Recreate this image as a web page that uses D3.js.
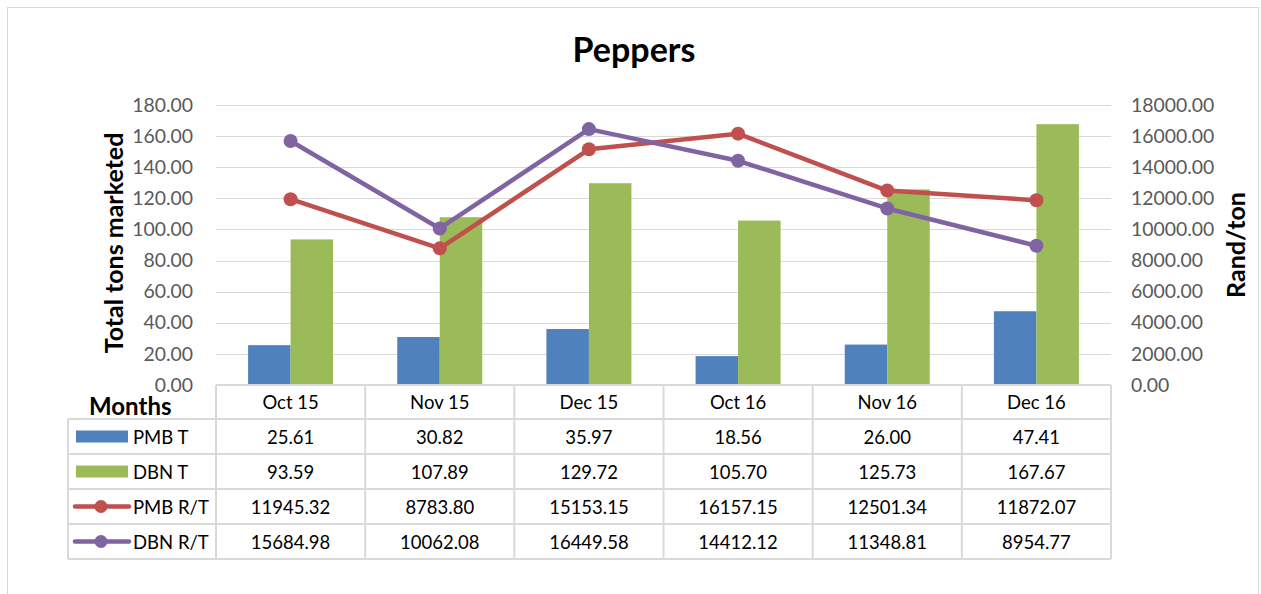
<!DOCTYPE html>
<html lang="en">
<head>
  <meta charset="UTF-8">
  <title>Peppers</title>
  <script src="https://d3js.org/d3.v7.min.js"></script>
  <style>
    body { margin: 0; background: #fff; font-family: Lato, "Open Sans", sans-serif; }
    svg { display: block; }
    .tick text { fill: #595959; font-size: 19.4px; font-family: Lato, sans-serif; }
    .cell { font-size: 18.5px; fill: #000; }
  </style>
</head>
<body>
  <svg id="chart" width="1261" height="594"></svg>
  <script>
    const months = ["Oct 15", "Nov 15", "Dec 15", "Oct 16", "Nov 16", "Dec 16"];
    const pmbT = [25.61, 30.82, 35.97, 18.56, 26.00, 47.41];
    const dbnT = [93.59, 107.89, 129.72, 105.70, 125.73, 167.67];
    const pmbRT = [11945.32, 8783.80, 15153.15, 16157.15, 12501.34, 11872.07];
    const dbnRT = [15684.98, 10062.08, 16449.58, 14412.12, 11348.81, 8954.77];
    const leftTicks = [0, 20, 40, 60, 80, 100, 120, 140, 160, 180];
    const rightTicks = [0, 2000, 4000, 6000, 8000, 10000, 12000, 14000, 16000, 18000];

    const series = [
      { name: "PMB T", type: "bar", color: "#4f81bd", values: pmbT },
      { name: "DBN T", type: "bar", color: "#9bbb59", values: dbnT },
      { name: "PMB R/T", type: "line", color: "#c0504d", values: pmbRT },
      { name: "DBN R/T", type: "line", color: "#8064a2", values: dbnRT }
    ];

    const svg = d3.select("#chart");
    const plot = { left: 216, right: 1111, top: 105, bottom: 385 };
    const tableLeft = 68, rowH = 35;

    // chart frame
    svg.append("rect")
      .attr("x", 7.5).attr("y", 7.5).attr("width", 1251).attr("height", 600)
      .attr("fill", "none").attr("stroke", "#d9d9d9");

    const x = d3.scaleBand().domain(months).range([plot.left, plot.right]);
    const yL = d3.scaleLinear().domain([0, 180]).range([plot.bottom, plot.top]);
    const yR = d3.scaleLinear().domain([0, 18000]).range([plot.bottom, plot.top]);

    // gridlines
    svg.append("g").selectAll("line").data(leftTicks.slice(1)).join("line")
      .attr("x1", plot.left).attr("x2", plot.right)
      .attr("y1", d => Math.round(yL(d)) + 0.5).attr("y2", d => Math.round(yL(d)) + 0.5)
      .attr("stroke", "#d9d9d9").attr("stroke-width", 1.2);

    // axes
    const fmt = d3.format(".2f");
    svg.append("g").attr("transform", `translate(${plot.left - 20},0)`)
      .call(d3.axisLeft(yL).tickValues(leftTicks).tickFormat(fmt).tickSize(0))
      .call(g => g.select(".domain").remove());
    svg.append("g").attr("transform", `translate(${plot.right + 17},0)`)
      .call(d3.axisRight(yR).tickValues(rightTicks).tickFormat(fmt).tickSize(0))
      .call(g => g.select(".domain").remove());

    // bars
    const barW = 42.5;
    const bars = series.filter(s => s.type === "bar");
    bars.forEach((s, i) => {
      svg.append("g").selectAll("rect").data(s.values).join("rect")
        .attr("x", (d, j) => x(months[j]) + x.bandwidth() / 2 - barW + i * barW)
        .attr("y", d => yL(d))
        .attr("width", barW)
        .attr("height", d => yL(0) - yL(d))
        .attr("fill", s.color);
    });

    // lines
    series.filter(s => s.type === "line").forEach(s => {
      const line = d3.line()
        .x((d, j) => x(months[j]) + x.bandwidth() / 2)
        .y(d => yR(d));
      svg.append("path").datum(s.values)
        .attr("d", line).attr("fill", "none")
        .attr("stroke", s.color).attr("stroke-width", 4.5)
        .attr("stroke-linejoin", "round");
      svg.append("g").selectAll("circle").data(s.values).join("circle")
        .attr("cx", (d, j) => x(months[j]) + x.bandwidth() / 2)
        .attr("cy", d => yR(d))
        .attr("r", 7)
        .attr("fill", s.color);
    });

    // title
    svg.append("text").attr("x", 634).attr("y", 62)
      .attr("text-anchor", "middle").attr("font-size", 34).attr("font-weight", "bold")
      .text("Peppers");

    svg.append("text")
      .attr("transform", `translate(123,243) rotate(-90)`)
      .attr("text-anchor", "middle").attr("font-size", 25).attr("font-weight", "bold")
      .text("Total tons marketed");
    svg.append("text")
      .attr("transform", `translate(1245,245) rotate(-90)`)
      .attr("text-anchor", "middle").attr("font-size", 25).attr("font-weight", "bold")
      .text("Rand/ton");

    svg.append("text").attr("x", 89).attr("y", 415)
      .attr("font-size", 24).attr("font-weight", "bold").text("Months");

    // data table
    const grid = svg.append("g").attr("stroke", "#d9d9d9").attr("stroke-width", 2).attr("fill", "none");
    const tableTop = 419;
    const tableBottom = tableTop + rowH * series.length;
    // vertical lines
    x.domain().concat([null]).forEach((m, i) => {
      const xv = m === null ? plot.right : x(m);
      grid.append("line").attr("x1", xv).attr("x2", xv).attr("y1", plot.bottom).attr("y2", tableBottom);
    });
    grid.append("line").attr("x1", tableLeft).attr("x2", tableLeft).attr("y1", tableTop).attr("y2", tableBottom);
    // horizontal lines
    d3.range(series.length + 1).forEach(i => {
      const yv = tableTop + i * rowH;
      grid.append("line").attr("x1", tableLeft).attr("x2", plot.right).attr("y1", yv).attr("y2", yv);
    });
    grid.append("line").attr("x1", plot.left).attr("x2", plot.right).attr("y1", plot.bottom).attr("y2", plot.bottom);

    // header
    svg.append("g").selectAll("text").data(months).join("text")
      .attr("class", "cell")
      .attr("x", d => x(d) + x.bandwidth() / 2)
      .attr("y", plot.bottom + 24)
      .attr("text-anchor", "middle")
      .text(d => d);

    series.forEach((s, i) => {
      const cy = tableTop + i * rowH + rowH / 2;
      if (s.type === "bar") {
        svg.append("rect").attr("x", 76).attr("y", cy - 6).attr("width", 52).attr("height", 12).attr("fill", s.color);
      } else {
        svg.append("line").attr("x1", 75).attr("x2", 129).attr("y1", cy).attr("y2", cy)
          .attr("stroke", s.color).attr("stroke-width", 4.5).attr("stroke-linecap", "round");
        svg.append("circle").attr("cx", 101).attr("cy", cy).attr("r", 6.5).attr("fill", s.color);
      }
      svg.append("text").attr("class", "cell").attr("x", 133).attr("y", cy + 7).text(s.name);
      svg.append("g").selectAll("text").data(s.values).join("text")
        .attr("class", "cell")
        .attr("x", (d, j) => x(months[j]) + x.bandwidth() / 2)
        .attr("y", cy + 7)
        .attr("text-anchor", "middle")
        .text(d => fmt(d));
    });
  </script>
</body>
</html>
